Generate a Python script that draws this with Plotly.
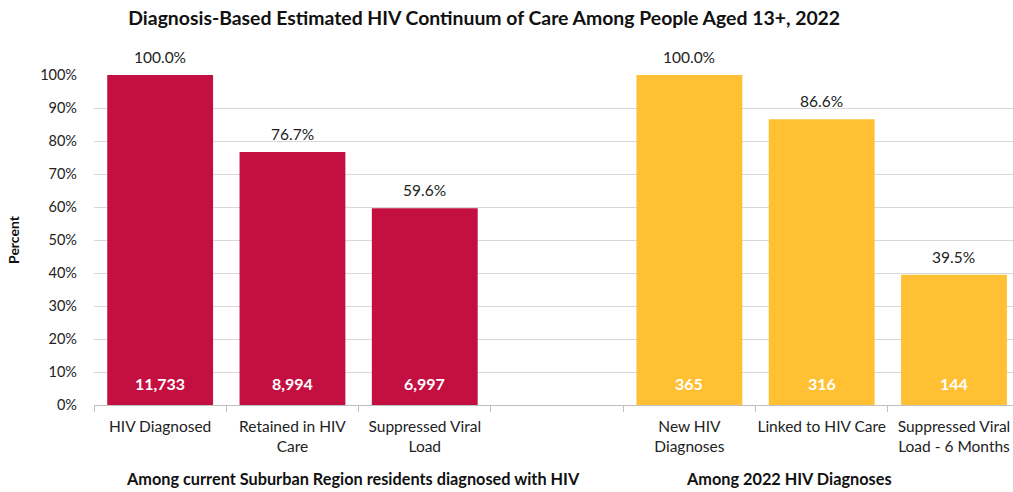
import plotly.graph_objects as go

categories = ["HIV Diagnosed", "Retained in HIV<br>Care", "Suppressed Viral<br>Load", " ",
              "New HIV<br>Diagnoses", "Linked to HIV Care", "Suppressed Viral<br>Load - 6 Months"]
percents = [1.000, 0.767, 0.596, None, 1.000, 0.866, 0.395]
counts = ["11,733", "8,994", "6,997", None, "365", "316", "144"]
colors = ["#C41040", "#C41040", "#C41040", "#FFFFFF", "#FFC033", "#FFC033", "#FFC033"]
group_labels = ["Among current Suburban Region residents diagnosed with HIV", "Among 2022 HIV Diagnoses"]
group_pos = [1.46, 4.75]
yticks = [i / 10 for i in range(11)]
ytick_text = [f"{i*10}%" for i in range(11)]

FONT = "Lato, 'Open Sans', sans-serif"

fig = go.Figure()
fig.add_trace(go.Bar(x=categories, y=percents, marker=dict(color=colors, line=dict(width=0)),
                     width=0.8, hoverinfo="skip"))

annotations = []
for c, p, n in zip(categories, percents, counts):
    if p is None:
        continue
    annotations.append(dict(x=c, y=p, xref="x", yref="y", text=f"{p*100:.1f}%", showarrow=False,
                            yanchor="bottom", yshift=7, font=dict(size=15.5, color="#222", family=FONT)))
    annotations.append(dict(x=c, y=0, xref="x", yref="y", text=f"<b>{n}</b>", showarrow=False,
                            yanchor="bottom", yshift=10, font=dict(size=16, color="white", family=FONT)))
for g, xp in zip(group_labels, group_pos):
    annotations.append(dict(x=xp, y=-0.224, xref="x", yref="paper", text=f"<b>{g}</b>", showarrow=False,
                            yanchor="middle", xanchor="center", font=dict(size=16.3, color="#111", family=FONT)))

fig.update_layout(
    width=1013, height=492,
    margin=dict(l=94, r=0, t=75, b=87),
    paper_bgcolor="white", plot_bgcolor="white",
    showlegend=False,
    title=dict(text="<b>Diagnosis-Based Estimated HIV Continuum of Care Among People Aged 13+, 2022</b>",
               x=0.478, xanchor="center", y=0.963, yanchor="middle", yref="container",
               font=dict(size=19.4, color="#111", family=FONT)),
    font=dict(family=FONT, color="#222"),
    annotations=annotations,
    bargap=0.2,
)
fig.update_xaxes(type="category", categoryorder="array", categoryarray=categories,
                 range=[-0.5, 6.446], showline=True, linecolor="#BFBFBF", linewidth=1,
                 ticks="outside", tickson="boundaries", ticklen=6, tickcolor="#BFBFBF",
                 tickangle=0, ticklabelstandoff=7,
                 tickfont=dict(size=15.5, color="#222", family=FONT), showgrid=False, automargin=False)
fig.update_yaxes(range=[0, 1], tickvals=yticks, ticktext=ytick_text, showgrid=True,
                 gridcolor="#D9D9D9", gridwidth=1, zeroline=False, showline=False,
                 tickfont=dict(size=14.5, color="#222", family=FONT), ticklabelstandoff=16,
                 automargin=False,
                 title=dict(text="<b>Percent</b>", font=dict(size=14, color="#111", family=FONT), standoff=17))

fig.write_html("out.html", config={"displayModeBar": False},
               post_script="document.body.style.margin='0';document.body.style.overflow='hidden';")
